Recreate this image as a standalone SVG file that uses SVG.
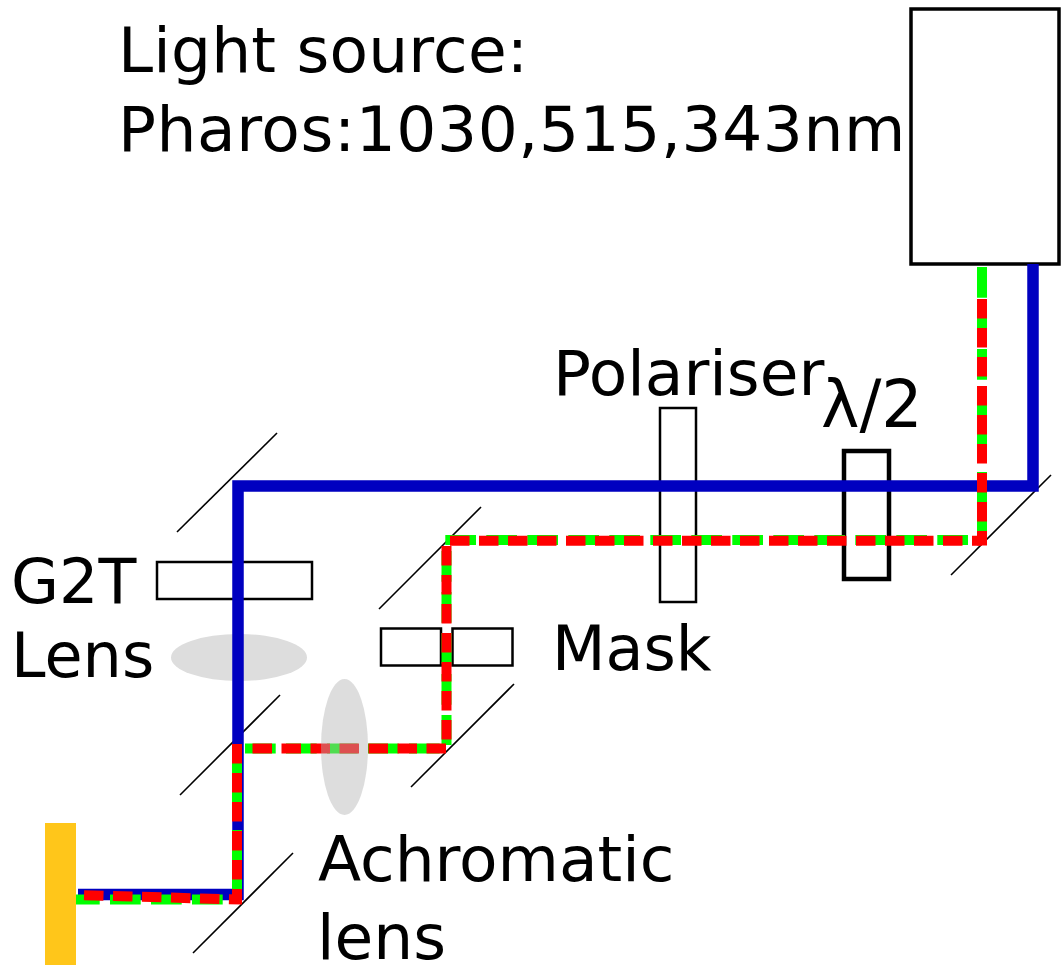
<svg xmlns="http://www.w3.org/2000/svg" width="1063" height="965" viewBox="0 0 1063 965">
<style>
text{font-family:"DejaVu Sans",sans-serif;font-size:63px;fill:#000}
.m{stroke:#000;stroke-width:1.6;fill:none}
.b{stroke:#0000c0;stroke-width:11.5;fill:none}
.g{stroke:#00ff00;stroke-width:10;fill:none;stroke-dasharray:30.7 10.3}
.r{stroke:#ff0000;stroke-width:10;fill:none;stroke-dasharray:19.5 9.5}
.o{fill:none;stroke:#000}
</style>
<rect width="1063" height="965" fill="#fff"/>
<g id="mirrors">
<path class="m" d="M951 575L1051 475"/>
<path class="m" d="M177 532L277 433"/>
<path class="m" d="M379 609L481 507"/>
<path class="m" d="M180 795L280 695"/>
<path class="m" d="M411 787L514 684"/>
<path class="m" d="M193 953L293 853"/>
</g>
<g id="g2t-lens-shape"><ellipse cx="239" cy="657.5" rx="68" ry="23.5" fill="#ddd"/></g>
<g id="source"><rect class="o" x="911" y="9" width="148" height="255" stroke-width="3.5"/></g>
<g id="polariser"><rect class="o" x="660" y="408" width="36" height="194" stroke-width="2.5"/></g>
<g id="waveplate"><rect class="o" x="844" y="451" width="45" height="128" stroke-width="4.5"/></g>
<g id="g2t"><rect class="o" x="157" y="562" width="155" height="37" stroke-width="2.5"/></g>
<g id="mask-left"><rect class="o" x="381" y="628.5" width="60" height="37" stroke-width="2.5"/></g>
<g id="mask-right"><rect class="o" x="452.5" y="628.5" width="60" height="37" stroke-width="2.5"/></g>
<g id="connectors">
<path class="b" d="M1033 264V486H238V894.5H78"/>
<path class="g" d="M982 267V544"/>
<path class="g" d="M968 540H445"/>
<path class="g" d="M446.5 551V745"/>
<path class="g" d="M245 748.5H446"/>
<path class="g" d="M237 748V904"/>
<path class="g" d="M69 899.5H222.7"/>
<path class="r" d="M982 299V545.5"/>
<path class="r" d="M982 540.8H446.5" stroke-dashoffset="9.5"/>
<path class="r" d="M446.5 546V748.5"/>
<path class="r" d="M446 748.5H245"/>
<path class="r" d="M237 744V904"/>
<path class="r" d="M84 895.2L242 899.6"/>
</g>
<g id="sample"><rect x="45" y="823" width="31" height="142" fill="#ffc61a"/></g>
<g id="achromatic-lens-shape"><ellipse cx="344.5" cy="747" rx="23.5" ry="68" fill="#b3b3b3" fill-opacity=".447"/></g>
<g id="labels">
<text x="118" y="72" letter-spacing=".2">Light source:</text>
<text x="118" y="150.5" letter-spacing=".58">Pharos:1030,515,343nm</text>
<text x="553" y="395">Polariser</text>
<text x="821" y="427" style="font-size:65px">λ/2</text>
<text x="11" y="603" style="font-size:62px">G2T</text>
<text x="11" y="677" style="font-size:62px">Lens</text>
<text x="552" y="670" style="font-size:62px">Mask</text>
<text x="318" y="881">Achromatic</text>
<text x="317" y="959">lens</text>
</g>
</svg>
